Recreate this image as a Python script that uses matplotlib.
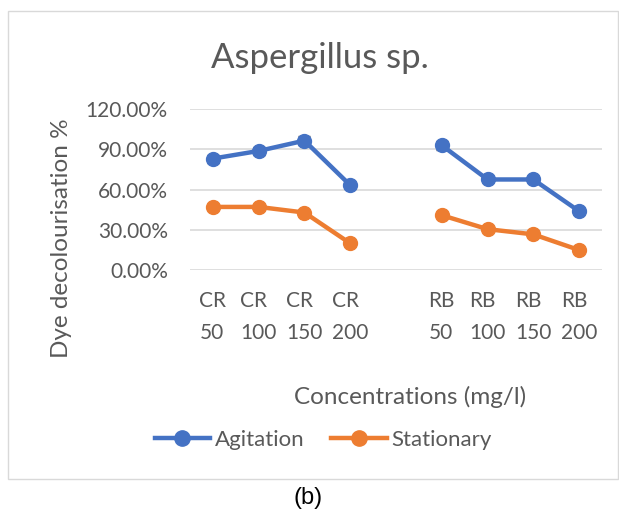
import numpy as np
import matplotlib
matplotlib.use("Agg")
import matplotlib.pyplot as plt
from matplotlib.patches import Rectangle

categories = ["CR\n50", "CR\n100", "CR\n150", "CR\n200", "", "RB\n50", "RB\n100", "RB\n150", "RB\n200"]
agitation = [83.2, 88.9, 96.6, 63.3, np.nan, 93.1, 67.6, 67.6, 43.9]
agitation_err = [3.0, 3.0, 3.5, 2.0, np.nan, 3.5, 2.0, 2.0, 2.0]
stationary = [47.1, 47.1, 42.9, 19.9, np.nan, 40.9, 30.5, 26.6, 14.9]
yticks = [0, 30, 60, 90, 120]
ytick_labels = ["0.00%", "30.00%", "60.00%", "90.00%", "120.00%"]

W, H = 619, 515
fig = plt.figure(figsize=(W / 100, H / 100), dpi=100)
plt.rcParams['font.family'] = ['Lato', 'DejaVu Sans']
gray = "#595959"
blue = "#4472C4"
orange = "#ED7D31"

# chart border
fig.patches.append(Rectangle((8 / W, (H - 479) / H), (618 - 8) / W, (479 - 11) / H,
                             transform=fig.transFigure, fill=False, edgecolor="#d9d9d9", lw=1))

left, right, top, bottom = 190, 602, 109.3, 270
ax = fig.add_axes([left / W, (H - bottom) / H, (right - left) / W, (bottom - top) / H])
x = np.arange(len(categories))
ax.set_xlim(-0.5, len(categories) - 0.5)
ax.set_ylim(0, 120)
ax.set_yticks(yticks)
ax.set_yticklabels(ytick_labels, fontsize=15, color=gray)
ax.set_xticks(x)
ax.set_xticklabels(categories, fontsize=15, color=gray, multialignment='left', linespacing=1.75)
ax.tick_params(length=0)
ax.tick_params(axis='y', pad=16)
ax.tick_params(axis='x', pad=15)
for s in ax.spines.values():
    s.set_visible(False)
ax.grid(axis='y', color="#d9d9d9", lw=1.2)
ax.set_axisbelow(True)

ax.errorbar(x, agitation, yerr=agitation_err, fmt='none', ecolor="#555555", elinewidth=1, capsize=4.5, zorder=2)
ax.plot(x, agitation, color=blue, lw=3.2, marker='o', ms=10, zorder=3, label="Agitation")
ax.plot(x, stationary, color=orange, lw=3.2, marker='o', ms=10, zorder=3, label="Stationary")

fig.text(320 / W, (H - 58) / H, "Aspergillus sp.", fontsize=25, color=gray, ha='center', va='center')
fig.text(62 / W, (H - 238) / H, "Dye decolourisation %", fontsize=17.5, color=gray, ha='center', va='center', rotation=90)
fig.text(410 / W, (H - 397) / H, "Concentrations (mg/l)", fontsize=17.5, color=gray, ha='center', va='center')
fig.text(308 / W, (H - 498) / H, "(b)", fontsize=17, color="black", ha='center', va='center',
         family='Liberation Sans')

leg = fig.legend(loc='center', bbox_to_anchor=(323 / W, (H - 440) / H), ncol=2, frameon=False,
                 fontsize=16, labelcolor=gray, handlelength=2.5, handletextpad=0.2, columnspacing=1.2,
                 markerscale=1.1)

fig.savefig("out.png", dpi=100)
